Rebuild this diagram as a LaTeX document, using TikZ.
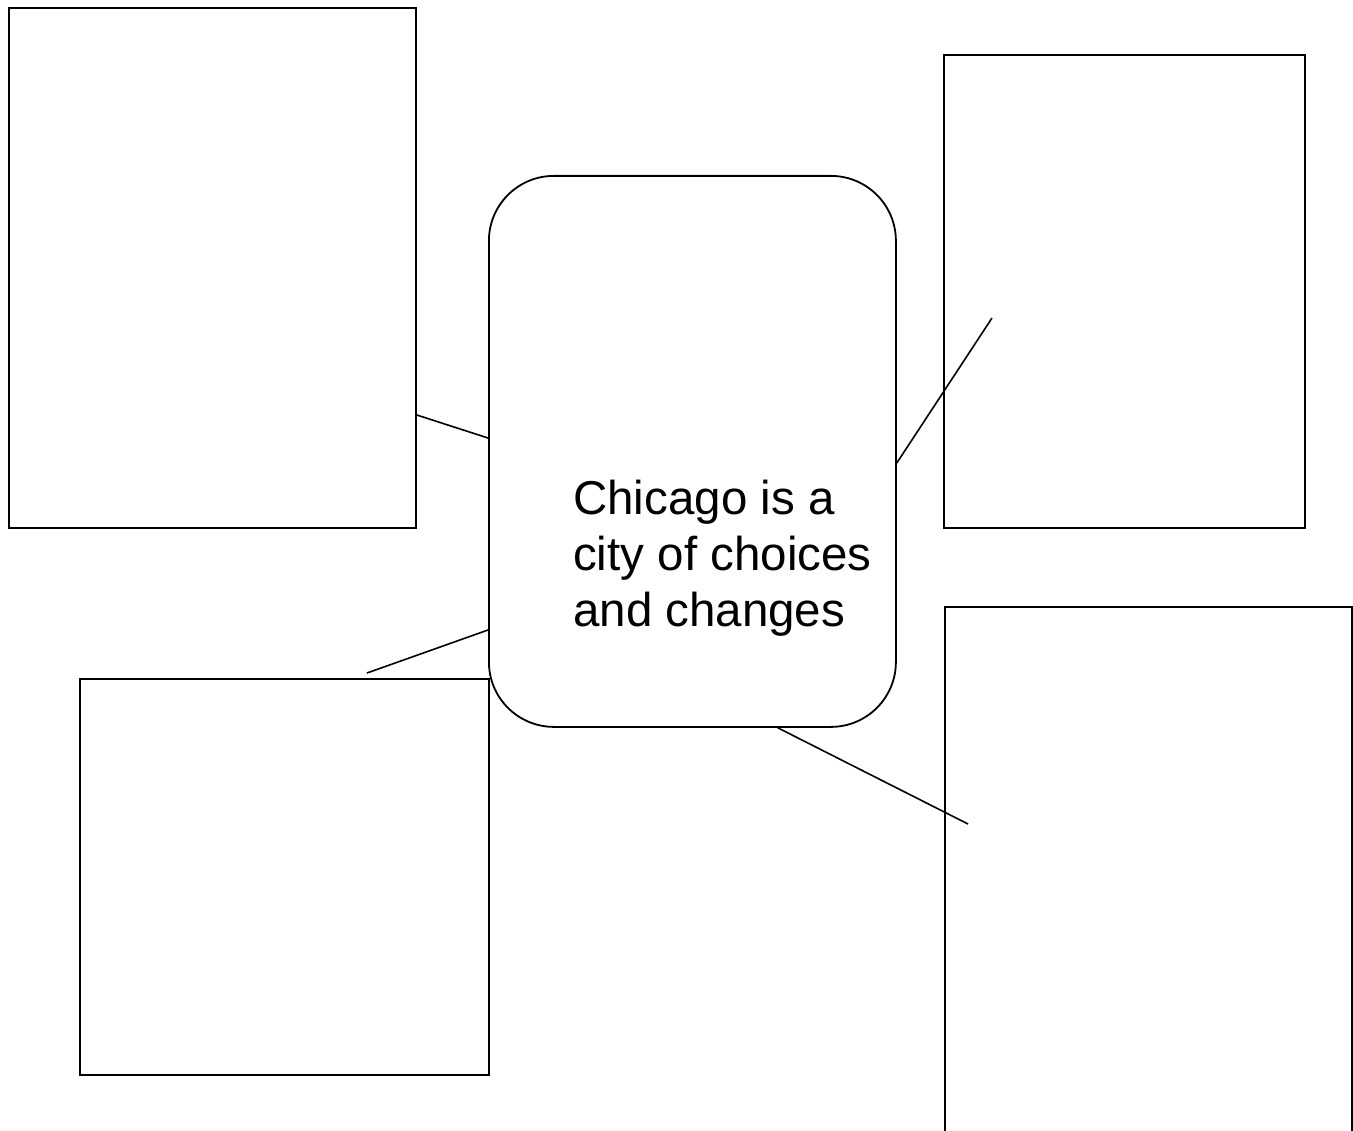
\documentclass[tikz,border=0pt]{standalone}
\usepackage{fontspec}
\setmainfont{Liberation Sans}
\begin{document}
\begin{tikzpicture}[x=1pt,y=-1pt,
  box/.style={draw=black,line width=1.8pt,inner sep=0pt,anchor=north west,fill=none},
  hub/.style={draw=black,line width=1.8pt,inner sep=0pt,anchor=north west,rounded corners=65pt},
  link/.style={draw=black,line width=1.6pt},
  lbl/.style={anchor=base west,align=left,inner sep=0pt,font=\fontsize{47.5}{56}\selectfont}]
\useasboundingbox (0,0) rectangle (1353,1131);
\clip (0,0) rectangle (1353,1131);
\fill[white] (0,0) rectangle (1353,1131);
\node[box,minimum width=407pt,minimum height=520pt] (tl) at (8,7) {};
\node[box,minimum width=361pt,minimum height=473pt] (tr) at (943,54) {};
\node[box,minimum width=409pt,minimum height=396pt] (bl) at (79,678) {};
\node[box,minimum width=407pt,minimum height=560pt] (br) at (944,606) {};
\node[hub,minimum width=407pt,minimum height=551pt] (hub) at (488,175) {};
\node[lbl] (txt) at (573,626) {Chicago is a\\city of choices\\and changes};
\coordinate (trend) at (992,318);
\coordinate (blend) at (367,673);
\coordinate (brend) at (968,824);
\draw[link] ([yshift=-408pt]tl.north east) -- ([yshift=-263pt]hub.north west);
\draw[link] ([yshift=-288pt]hub.north east) -- (trend);
\draw[link] ([yshift=-455pt]hub.north west) -- (blend);
\draw[link] ([xshift=-119pt]hub.south east) -- (brend);
\end{tikzpicture}
\end{document}
